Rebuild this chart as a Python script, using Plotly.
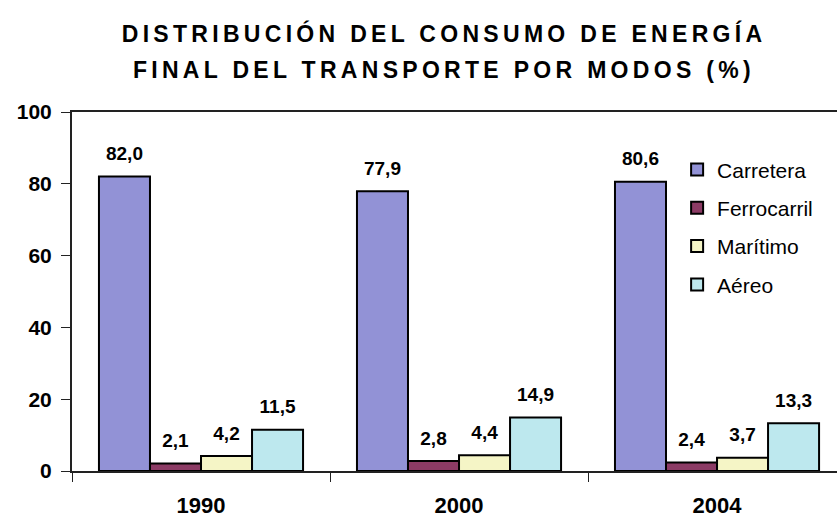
import plotly.graph_objects as go

years = ["1990", "2000", "2004"]
carretera = [82.0, 77.9, 80.6]
ferrocarril = [2.1, 2.8, 2.4]
maritimo = [4.2, 4.4, 3.7]
aereo = [11.5, 14.9, 13.3]
series_names = ["Carretera", "Ferrocarril", "Marítimo", "Aéreo"]
series_values = [carretera, ferrocarril, maritimo, aereo]
colors = ["#9292D6", "#8C3B65", "#F5F5C6", "#BDE8EE"]
title_line1 = "DISTRIBUCIÓN DEL CONSUMO DE ENERGÍA"
title_line2 = "FINAL DEL TRANSPORTE POR MODOS (%)"

FONT = "Liberation Sans, Arial, sans-serif"
GAP = 0.209

fig = go.Figure()
for name, vals, col in zip(series_names, series_values, colors):
    fig.add_trace(go.Bar(
        x=years, y=vals, name=name, legendgroup=name,
        marker=dict(color=col, line=dict(color="black", width=2)),
    ))
for name, vals in zip(series_names, series_values):
    fig.add_trace(go.Scatter(
        x=years, y=vals, mode="markers+text", showlegend=False, hoverinfo="skip",
        marker=dict(size=17, opacity=0),
        texttemplate="%{y:.1f}", textposition="top center", cliponaxis=False,
        textfont=dict(family=FONT, size=19, color="black", weight="bold"),
    ))

fig.update_layout(
    width=837, height=518,
    margin=dict(l=72, r=0, t=112, b=47),
    paper_bgcolor="white", plot_bgcolor="white",
    separators=",.",
    barmode="group", bargap=GAP, bargroupgap=0,
    scattermode="group", scattergap=GAP,
    font=dict(family=FONT, color="black"),
    showlegend=True,
    legend=dict(x=0.791, y=0.896, xanchor="left", yanchor="top",
                font=dict(family=FONT, size=21, color="black"),
                tracegroupgap=8, bgcolor="rgba(0,0,0,0)"),
    xaxis=dict(range=[-0.5, 2.465], showline=True, linecolor="#222", linewidth=2, mirror=True,
               ticks="outside", tickson="boundaries", ticklen=9, tickcolor="#222",
               ticklabelstandoff=14,
               tickfont=dict(family=FONT, size=22, color="black", weight="bold"),
               showgrid=False),
    yaxis=dict(range=[0, 100], dtick=20, showline=True, linecolor="#222", linewidth=2,
               ticks="outside", ticklen=9, tickcolor="#222", ticklabelstandoff=5,
               tickfont=dict(family=FONT, size=21, color="black", weight="bold"),
               showgrid=False, zeroline=False),
    annotations=[
        dict(text=title_line1, xref="paper", yref="paper", x=0.486, y=1.0, yanchor="middle",
             yshift=79, showarrow=False,
             font=dict(family=FONT, size=23, color="black", weight="bold")),
        dict(text=title_line2, xref="paper", yref="paper", x=0.486, y=1.0, yanchor="middle",
             yshift=42, showarrow=False,
             font=dict(family=FONT, size=23, color="black", weight="bold")),
    ],
)

post = """
document.body.style.margin = '0';
var ann = document.querySelectorAll('.annotation-text');
ann.forEach(function(t){ t.style.letterSpacing = '4.3px'; });
"""
fig.write_html("out.html", post_script=post, config={"displayModeBar": False})
